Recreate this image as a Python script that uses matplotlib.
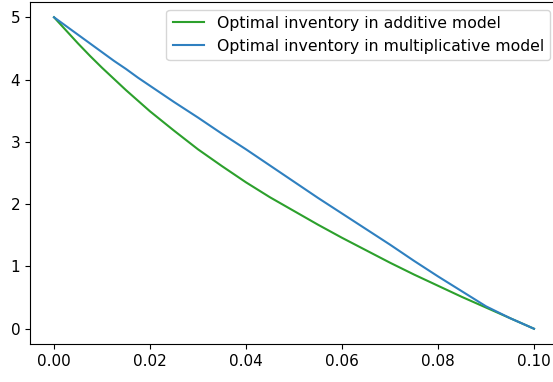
import matplotlib
matplotlib.use("Agg")
import matplotlib.pyplot as plt

# tempo (x) e estoque ótimo
t = [0.000, 0.0025, 0.005, 0.0075, 0.010, 0.0125, 0.015, 0.0175, 0.020, 0.025, 0.030,
     0.035, 0.040, 0.045, 0.050, 0.055, 0.060, 0.065, 0.070, 0.075, 0.080, 0.085,
     0.090, 0.095, 0.100]
estoque_aditivo = [5.00, 4.79, 4.58, 4.38, 4.19, 4.01, 3.83, 3.66, 3.49, 3.18, 2.88,
                   2.61, 2.35, 2.11, 1.89, 1.67, 1.46, 1.26, 1.06, 0.87, 0.69, 0.51,
                   0.34, 0.17, 0.00]
estoque_multiplicativo = [5.00, 4.86, 4.72, 4.58, 4.44, 4.30, 4.17, 4.03, 3.90, 3.64, 3.39,
                          3.13, 2.88, 2.62, 2.36, 2.10, 1.85, 1.60, 1.35, 1.09, 0.84, 0.60,
                          0.36, 0.17, 0.00]

plt.rcParams['font.size'] = 11

fig = plt.figure(figsize=(5.53, 3.82), dpi=100)
ax = fig.add_axes([30 / 553, 37.7 / 382, 528 / 553, 342.6 / 382])

ax.plot(t, estoque_aditivo, color='#2ca02c', label='Optimal inventory in additive model')
ax.plot(t, estoque_multiplicativo, color='#2f80c0', label='Optimal inventory in multiplicative model')

ax.set_xlim(-0.005, 0.105)
ax.set_ylim(-0.25, 5.25)
ax.set_xticks([0.00, 0.02, 0.04, 0.06, 0.08, 0.10])
ax.set_yticks([0, 1, 2, 3, 4, 5])
ax.legend(loc='upper right', fontsize=11.3)

fig.savefig("out.png", dpi=100)
